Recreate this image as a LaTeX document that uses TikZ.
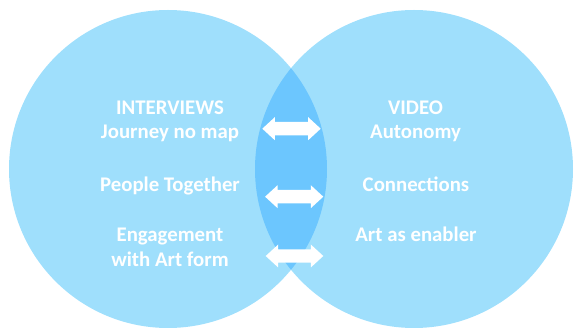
\documentclass[tikz,border=0pt]{standalone}
\usepackage{fontspec}
\setmainfont{Carlito}
\usetikzlibrary{calc}
\definecolor{circfill}{RGB}{159,223,252}
\definecolor{overfill}{RGB}{108,198,254}
\tikzset{
  lbl/.style={anchor=base, text=white, font=\bfseries\fontsize{20.8}{25}\selectfont, inner sep=0pt},
  arrowfill/.style={fill=white, draw=none}
}
% #1 centre coordinate name, #2 half length
\newcommand{\dblarrow}[2]{%
  \fill[arrowfill] ($(#1)+(-#2,0)$) -- ++(12.5,11.5) -- ++(0,-4.8) -- ($(#1)+(#2-12.5,6.7)$)
    -- ++(0,4.8) -- ($(#1)+(#2,0)$) -- ++(-12.5,-11.5) -- ++(0,4.8)
    -- ($(#1)+(-#2+12.5,-6.7)$) -- ++(0,-4.8) -- cycle;}
\begin{document}
\begin{tikzpicture}[x=1pt,y=1pt]
\useasboundingbox (0,0) rectangle (574,329);
\coordinate (cl) at (168,160);
\coordinate (cr) at (414,160);
\fill[circfill] (cl) circle (159);
\fill[circfill] (cr) circle (159);
\begin{scope}
  \clip (cl) circle (159);
  \fill[overfill] (cr) circle (159);
\end{scope}
\coordinate (a1) at (291.5,200.3);
\coordinate (a2) at (294.2,132.3);
\coordinate (a3) at (294.5,73);
\dblarrow{a1}{29.2}
\dblarrow{a2}{29.1}
\dblarrow{a3}{28.8}
\node[lbl] (t1) at (170,214.7) {INTERVIEWS};
\node[lbl] (t2) at (170,190) {Journey no map};
\node[lbl] (t3) at (170,137.3) {People Together};
\node[lbl] (t4) at (170,87) {Engagement};
\node[lbl] (t5) at (170,62) {with Art form};
\node[lbl] (r1) at (415.5,214.7) {VIDEO};
\node[lbl] (r2) at (415.5,190) {Autonomy};
\node[lbl] (r3) at (416,137.3) {Connections};
\node[lbl] (r4) at (416,87) {Art as enabler};
\end{tikzpicture}
\end{document}
